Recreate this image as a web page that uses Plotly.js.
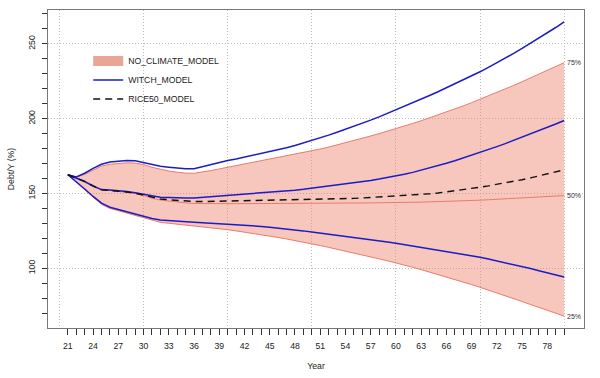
<!DOCTYPE html>
<html><head><meta charset="utf-8">
<script src="https://cdn.plot.ly/plotly-3.0.1.min.js"></script>
<style>html,body{margin:0;padding:0;background:#fff}#chart{width:600px;height:378px}</style>
</head><body><div id="chart"></div>
<script>
const years = [21,22,23,24,25,26,27,28,29,30,31,32,33,34,35,36,37,38,39,40,
  41,42,43,44,45,46,47,48,49,50,51,52,53,54,55,56,57,58,59,60,
  61,62,63,64,65,66,67,68,69,70,71,72,73,74,75,76,77,78,79,80];
const labelYears = [21,24,27,30,33,36,39,42,45,48,51,54,57,60,63,66,69,72,75,78];

// NO_CLIMATE_MODEL quantiles
const noClimate25 = [162.5,157.5,152.3,147.2,142.7,140,138.4,137,135.6,134,
  132,130.7,130.1,129.5,129,128.5,127.9,127.3,126.6,125.8,
  125,124.2,123.3,122.4,121.5,120.6,119.6,118.6,117.5,116.4,
  115.2,114,112.8,111.5,110.2,108.9,107.6,106.3,105,103.7,
  102.2,100.7,99.1,97.5,95.9,94.2,92.5,90.8,89.1,87.3,
  85.5,83.6,81.7,79.8,77.8,75.8,74,72,70,68];
const noClimate50 = [162.5,160.5,158,155,152.4,152,151.5,150.8,150,148.7,
  146.8,145.6,144.8,144.2,143.7,143.3,143.2,143.2,143.2,143.2,
  143.2,143.2,143.2,143.2,143.2,143.2,143.2,143.2,143.3,143.3,
  143.3,143.4,143.4,143.5,143.6,143.6,143.7,143.8,143.8,143.9,
  144,144.1,144.2,144.4,144.5,144.7,144.9,145.1,145.3,145.5,
  145.8,146.1,146.4,146.7,147,147.3,147.6,147.9,148.3,148.6];
const noClimate75 = [162.5,161,162.8,165.5,168.3,169.5,170.2,170.5,170.3,169.3,
  167.5,166,165,164.2,163.6,163.5,164.3,165.3,166.4,167.5,
  168.5,169.5,170.5,171.5,172.6,173.7,174.8,176,177.2,178.4,
  179.7,181,182.4,183.8,185.3,186.8,188.4,190,191.6,193.3,
  195,196.8,198.6,200.5,202.4,204.4,206.4,208.5,210.7,212.9,
  215.1,217.4,219.8,222.2,224.7,227.2,229.7,232.3,234.9,237.4];

// WITCH_MODEL lines
const witchLow = [162.5,158,153,148,143.5,140.8,139.3,138,136.7,135.2,
  133.3,132.3,131.8,131.4,131.1,130.8,130.5,130.2,129.9,129.5,
  129.2,128.8,128.4,128,127.5,127,126.5,125.8,125,124.2,
  123.5,122.8,122.1,121.3,120.6,119.8,119.1,118.3,117.5,116.7,
  115.8,114.9,114.1,113.2,112.3,111.3,110.3,109.4,108.4,107.4,
  106.2,105,103.8,102.5,101.2,99.8,98.4,97,95.6,94.2];
const witchMid = [162.5,160.5,158,155,152.6,152.3,152,151.3,150.5,149.5,
  148,147.5,147.3,147,147,147,147.4,147.8,148.3,148.8,
  149.2,149.6,150,150.4,150.8,151.2,151.7,152.2,152.8,153.5,
  154.1,154.8,155.5,156.2,157,157.8,158.7,159.6,160.5,161.5,
  162.8,164.1,165.5,167,168.5,170.2,171.9,173.7,175.5,177.4,
  179.3,181.3,183.3,185.4,187.5,189.7,191.9,194.1,196.4,198.8];
const witchHigh = [162.5,161,163.5,166.8,169.5,171,171.6,172,171.8,170.5,
  169,168.2,167.6,167,166.6,166.5,168,169.5,171,172,
  173,174.2,175.3,176.5,177.8,179.2,180.6,182.1,183.7,185.5,
  187.2,189,190.9,192.8,194.8,196.8,199,201.2,203.5,206,
  208.3,210.7,213.1,215.5,218,220.6,223.2,225.8,228.5,231.3,
  234.3,237.3,240.4,243.6,246.9,250.3,253.7,257.2,260.9,264.7];

// RICE50_MODEL
const rice50 = [162.5,160.5,158,155,152.4,152,151.7,151,150.2,149,
  147.3,146.3,145.8,145.3,144.8,144.6,144.6,144.7,144.8,145,
  145.1,145.2,145.2,145.3,145.3,145.4,145.5,145.5,145.6,145.7,
  145.9,146.1,146.3,146.5,146.7,147,147.3,147.6,147.9,148.2,
  148.6,149,149.4,149.8,150.3,151,151.7,152.5,153.3,154.2,
  155.1,156,157,158.1,159.2,160.4,161.7,163,164.4,165.8];

const quantLabels = ['25%','50%','75%'];

const redLine = '#e97b6c';
const bandFill = 'rgba(236,118,98,0.42)';
const blue = '#1c1cc4';
const font = 'Liberation Sans, Arial, Helvetica, sans-serif';

const traces = [
  {x: years, y: noClimate25, mode: 'lines', line: {color: redLine, width: 1}, showlegend: false, hoverinfo: 'skip'},
  {x: years, y: noClimate75, mode: 'lines', fill: 'tonexty', fillcolor: bandFill, line: {color: redLine, width: 1}, showlegend: false, hoverinfo: 'skip'},
  {x: years, y: noClimate50, mode: 'lines', line: {color: redLine, width: 1}, showlegend: false, hoverinfo: 'skip'},
  {x: [null], y: [null], mode: 'lines', name: 'NO_CLIMATE_MODEL', line: {color: '#e9a595', width: 10}},
  {x: years, y: witchHigh, mode: 'lines', name: 'WITCH_MODEL', legendgroup: 'w', line: {color: blue, width: 1.5}},
  {x: years, y: witchMid, mode: 'lines', legendgroup: 'w', showlegend: false, line: {color: blue, width: 1.5}},
  {x: years, y: witchLow, mode: 'lines', legendgroup: 'w', showlegend: false, line: {color: blue, width: 1.5}},
  {x: years, y: rice50, mode: 'lines', name: 'RICE50_MODEL', xaxis: 'x2', line: {color: '#111', width: 1.4, dash: '7px,5px'}}
];

const xr = [18.64, 82.36];
const layout = {
  width: 600, height: 378,
  margin: {l: 48, r: 16, t: 10, b: 50},
  paper_bgcolor: '#fff', plot_bgcolor: '#fff',
  font: {family: font, size: 8.7, color: '#222'},
  showlegend: true,
  legend: {x: 0.075, y: 0.885, xanchor: 'left', yanchor: 'top', bgcolor: 'rgba(0,0,0,0)',
    font: {family: font, size: 8.7, color: '#222'}, tracegroupgap: 0},
  xaxis: {range: xr, tickvals: [20,30,40,50,60,70,80], showticklabels: false, ticks: '',
    showgrid: true, gridcolor: '#bdbdbd', griddash: '1px,2px', gridwidth: 1,
    showline: true, mirror: true, linecolor: '#777', linewidth: 1, zeroline: false,
    title: {text: 'Year', font: {size: 8.7, color: '#222'}, standoff: 34}},
  xaxis2: {range: xr, overlaying: 'x', anchor: 'y', side: 'bottom',
    tickvals: years, ticktext: years.map(v => labelYears.includes(v) ? String(v) : ''),
    ticks: 'outside', ticklen: 6, tickcolor: '#333', tickwidth: 1, ticklabelstandoff: 4,
    showgrid: false, showline: false, zeroline: false,
    tickfont: {size: 8.7, color: '#222'}},
  yaxis: {range: [60.1, 272.6], tickvals: [100,150,200,250], tickangle: -90,
    ticks: 'outside', ticklen: 5, tickcolor: '#333', ticklabelstandoff: 4,
    minor: {tickmode: 'array', tickvals: [70,80,90,110,120,130,140,160,170,180,190,210,220,230,240,260,270], ticks: 'outside', ticklen: 5, tickcolor: '#333', showgrid: false},
    showgrid: true, gridcolor: '#bdbdbd', griddash: '1px,2px', gridwidth: 1,
    showline: true, mirror: true, linecolor: '#777', linewidth: 1, zeroline: false,
    tickfont: {size: 8.7, color: '#222'},
    title: {text: 'Debt/Y (%)', font: {size: 8.7, color: '#222'}, standoff: 10}},
  annotations: [
    {x: years[years.length-1], y: noClimate75[noClimate75.length-1], text: quantLabels[2]},
    {x: years[years.length-1], y: noClimate50[noClimate50.length-1], text: quantLabels[1]},
    {x: years[years.length-1], y: noClimate25[noClimate25.length-1], text: quantLabels[0]}
  ].map(a => Object.assign(a, {xref: 'x', yref: 'y', xanchor: 'left', yanchor: 'middle', xshift: 1, showarrow: false,
    font: {family: font, size: 7, color: '#333'}}))
};

Plotly.newPlot('chart', traces, layout, {staticPlot: true, displayModeBar: false});
</script>
</body></html>
